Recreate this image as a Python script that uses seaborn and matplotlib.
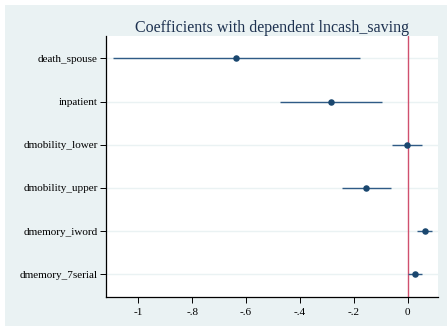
import matplotlib
matplotlib.use("Agg")
import matplotlib.pyplot as plt
import seaborn as sns
import pandas as pd
from matplotlib.patches import Rectangle

# Data
variables = ["death_spouse", "inpatient", "dmobility_lower",
             "dmobility_upper", "dmemory_iword", "dmemory_7serial"]
coef = [-0.636, -0.286, -0.003, -0.154, 0.063, 0.026]
ci_low = [-1.093, -0.475, -0.058, -0.245, 0.035, 0.002]
ci_high = [-0.177, -0.096, 0.053, -0.062, 0.090, 0.053]
xticks = [-1, -0.8, -0.6, -0.4, -0.2, 0]
xticklabels = ["-1", "-.8", "-.6", "-.4", "-.2", "0"]

df = pd.DataFrame({"var": variables, "coef": coef, "lo": ci_low, "hi": ci_high})

sns.set_theme(style="white")
plt.rcParams['font.family'] = ['Liberation Serif', 'DejaVu Serif']

navy = "#1a476f"
panel = "#eaf2f3"

fig = plt.figure(figsize=(4.47, 3.26), dpi=100)
fig.patch.set_facecolor("white")
# light outer panel (Stata style background)
fig.patches.append(Rectangle((5 / 447, 0), 1, 1 - 5 / 326, transform=fig.transFigure,
                             facecolor=panel, edgecolor="none", zorder=-10))

ax = fig.add_axes([106 / 447, 1 - 296.7 / 326, 332 / 447, (296.7 - 36) / 326])
ax.set_facecolor("white")

ypos = list(range(len(variables)))
for y in ypos:
    ax.axhline(y, color=panel, lw=1.0, zorder=0)

ax.hlines(ypos, df["lo"], df["hi"], color="#2f5b86", lw=1.0, zorder=2)
sns.scatterplot(x=df["coef"], y=ypos, color=navy, s=22, edgecolor=navy,
                linewidth=0, ax=ax, zorder=3)
ax.axvline(0, color="#d0506e", lw=1.0, zorder=1)

ax.set_ylim(5.52, -0.52)
ax.set_xlim(-1.12, 0.113)
ax.set_yticks(ypos)
ax.set_yticklabels(variables)
ax.set_xticks(xticks)
ax.set_xticklabels(xticklabels)
ax.set_xlabel("")
ax.set_ylabel("")

for s in ["top", "right"]:
    ax.spines[s].set_visible(False)
for s in ["left", "bottom"]:
    ax.spines[s].set_color("black")
    ax.spines[s].set_linewidth(0.9)

ax.tick_params(axis="both", which="major", direction="out", length=4, width=0.7,
               color="black", labelsize=8, labelcolor="black", pad=2,
               left=True, bottom=True)
ax.tick_params(axis="x", pad=4)

ax.set_title("Coefficients with dependent lncash_saving", fontsize=11.5,
             color="#1e3250", pad=3)

fig.savefig("out.png", dpi=100)
